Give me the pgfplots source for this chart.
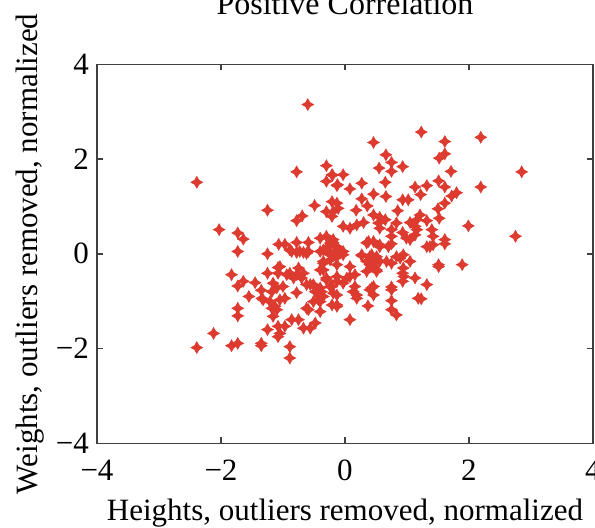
\documentclass[border=0pt]{standalone}
\usepackage{pgfplots}
\pgfplotsset{compat=1.18}
\usepackage{fontspec}
\setmainfont{Liberation Serif}
\definecolor{ptred}{RGB}{221,58,48}
\pgfdeclareplotmark{star4}{%
  \pgfmathsetmacro{\ra}{0.36*\pgfplotmarksize}%
  \pgfpathmoveto{\pgfqpoint{0pt}{\pgfplotmarksize}}%
  \pgfpathlineto{\pgfpoint{\ra pt}{\ra pt}}%
  \pgfpathlineto{\pgfqpoint{\pgfplotmarksize}{0pt}}%
  \pgfpathlineto{\pgfpoint{\ra pt}{-\ra pt}}%
  \pgfpathlineto{\pgfqpoint{0pt}{-\pgfplotmarksize}}%
  \pgfpathlineto{\pgfpoint{-\ra pt}{-\ra pt}}%
  \pgfpathlineto{\pgfqpoint{-\pgfplotmarksize}{0pt}}%
  \pgfpathlineto{\pgfpoint{-\ra pt}{\ra pt}}%
  \pgfpathclose
  \pgfusepathqfillstroke}
\begin{document}
\begin{tikzpicture}
\begin{axis}[
  at={(0,0)}, anchor=south west,
  scale only axis, width=248pt, height=189.5pt,
  xmin=-4, xmax=4, ymin=-4, ymax=4,
  xtick={-4,-2,0,2,4}, ytick={-4,-2,0,2,4},
  xticklabels={−4,−2,0,2,4}, yticklabels={−4,−2,0,2,4},
  tick align=inside, major tick length=3pt,
  axis line style={line width=0.8pt, black!75},
  every tick/.style={line width=0.8pt, black!75},
  font=\fontsize{15.5}{18}\selectfont,
  xticklabel style={anchor=base, yshift=-18.4pt},
  yticklabel style={anchor=east, xshift=-0.5pt},
  title={Positive Correlation},
  title style={at={(axis description cs:0.5,1.1)}, anchor=base, font=\fontsize{16}{18}\selectfont},
  xlabel={Heights, outliers removed, normalized},
  xlabel style={at={(axis description cs:0.5,-0.2026)}, anchor=base},
  ylabel={Weights, outliers removed, normalized},
  ylabel style={at={(axis description cs:-0.119,0.5)}, anchor=base},
]
\addplot[only marks, mark=star4, mark size=2.8pt, color=ptred, line width=0.45pt] table {
x y
-0.60 3.15
-2.39 1.51
-0.78 1.73
-0.30 1.86
-0.20 1.66
-0.30 1.53
-0.13 1.44
-1.25 0.92
-0.49 1.02
-0.69 0.80
-0.78 0.70
-2.03 0.51
-1.73 0.44
-1.64 0.31
-1.73 0.05
-1.25 0.00
-1.07 0.20
-0.97 0.20
-0.78 0.24
-0.59 0.24
-0.89 0.08
-0.78 0.03
-0.67 0.03
-0.59 0.05
1.23 2.57
0.46 2.35
1.61 2.37
2.19 2.46
2.85 1.73
0.66 2.09
0.75 1.93
0.55 1.81
0.75 1.74
0.93 1.84
1.52 2.02
1.61 2.11
1.71 1.74
2.19 1.41
1.13 1.41
1.32 1.44
1.51 1.54
1.61 1.41
1.22 1.25
1.80 1.29
1.72 1.22
1.61 1.07
0.27 1.49
0.65 1.51
-0.12 1.46
0.08 1.37
-0.03 1.67
-0.21 1.67
0.46 1.26
0.66 1.21
0.27 1.16
0.36 1.01
0.93 1.14
1.02 1.14
0.85 0.91
0.18 0.92
0.46 0.82
0.56 0.77
0.65 0.72
0.54 0.65
1.50 0.95
1.52 0.75
1.21 0.82
1.16 0.72
1.32 0.70
1.05 0.66
1.99 0.59
2.75 0.37
0.83 0.65
-0.03 0.58
0.08 0.54
0.19 0.61
0.30 0.66
0.56 0.54
0.75 0.51
0.75 0.37
0.75 0.21
0.93 0.45
1.13 0.58
1.13 0.40
1.16 0.51
1.40 0.51
1.42 0.37
1.37 0.15
1.32 0.15
1.42 0.19
1.61 0.30
1.61 0.21
-0.19 0.23
-0.13 0.15
-0.24 0.23
0.35 0.23
0.46 0.26
0.38 0.26
0.56 0.19
0.99 0.33
1.05 0.30
-0.08 0.01
0.27 -0.04
0.40 -0.06
0.51 -0.06
0.46 -0.20
0.83 -0.06
0.94 -0.02
1.05 -0.16
0.67 -0.16
0.75 -0.20
1.51 -0.23
1.89 -0.23
1.51 -0.27
1.32 -0.65
1.23 -0.95
1.13 -0.51
1.18 -0.94
0.93 -0.41
0.93 -0.58
0.95 -0.48
0.89 -0.09
0.94 -0.30
0.75 -0.70
0.75 -0.76
0.75 -0.99
0.75 -1.18
0.83 -1.29
0.46 -0.69
0.46 -0.87
0.40 -0.76
0.43 -0.72
0.37 -1.10
0.08 -1.39
0.19 -0.94
0.13 -0.80
0.16 -0.69
0.19 -0.87
0.08 -0.48
-0.03 -0.62
-0.13 -0.48
0.08 -0.27
0.16 -0.44
0.03 -0.51
-0.13 -0.58
-0.21 -0.69
-0.30 -0.51
-0.13 -0.87
-0.13 -1.08
-0.21 -1.08
-0.13 -1.11
0.27 -0.02
0.35 -0.16
0.46 -0.27
0.35 -0.37
0.51 -0.37
0.40 -0.23
0.51 -0.34
0.56 -0.16
0.43 -0.02
0.56 0.15
0.70 0.15
-0.03 -0.02
-0.13 -0.06
-0.24 -0.02
-0.13 0.01
-0.03 0.05
-0.40 0.05
-0.30 0.12
-0.35 -0.16
-0.35 -0.34
-2.39 -1.98
-2.12 -1.68
-1.83 -1.94
-1.73 -1.89
-1.35 -1.89
-1.35 -1.94
-0.89 -1.96
-0.89 -2.20
-1.73 -1.15
-1.73 -1.31
-1.55 -0.90
-1.83 -0.44
-1.73 -0.68
-1.64 -0.58
-1.45 -0.61
-1.35 -0.77
-1.34 -0.94
-1.25 -0.41
-1.25 -1.60
-1.08 -1.53
-1.05 -1.68
-0.97 -1.53
-1.08 -1.75
-0.86 -1.39
-0.75 -1.39
-0.67 -1.57
-0.56 -1.57
-0.48 -1.46
-0.59 -1.18
-0.62 -1.15
-0.40 -1.22
-0.78 -0.82
-1.32 -0.97
-1.21 -1.01
-1.13 -1.11
-1.16 -1.32
-1.10 -1.18
-1.18 -1.15
-1.05 -0.27
-1.08 -0.41
-1.00 -0.69
-1.16 -0.62
-1.18 -0.80
-1.08 -0.29
-1.10 -0.72
-0.94 -0.44
-0.83 -0.51
-0.97 -0.94
-1.05 -0.97
-0.89 -0.41
-0.78 -0.44
-0.75 -0.30
-0.67 -0.41
-0.70 -0.51
-0.56 -0.65
-0.46 -0.80
-0.40 -0.72
-0.35 -0.90
-0.40 -1.01
-0.30 -0.55
-0.24 -0.69
-0.19 -0.83
-0.40 -0.34
-0.35 -0.20
-0.24 -0.13
-0.13 -0.23
-0.62 -0.65
-0.51 -0.65
-0.48 -0.80
-0.38 -0.80
-0.43 -0.97
-0.51 -1.01
-0.86 0.05
-0.73 0.05
-0.62 0.01
-0.40 0.33
-0.30 0.37
-0.19 0.30
-0.35 0.08
-0.24 0.01
-0.13 0.08
-0.21 1.10
-0.13 1.07
-0.11 0.96
-0.19 0.89
-0.30 0.89
-0.21 0.79
};
\end{axis}
\pgfresetboundingbox
\useasboundingbox (-48.5pt,-41.85pt) rectangle (249pt,221.65pt);
\end{tikzpicture}
\end{document}
